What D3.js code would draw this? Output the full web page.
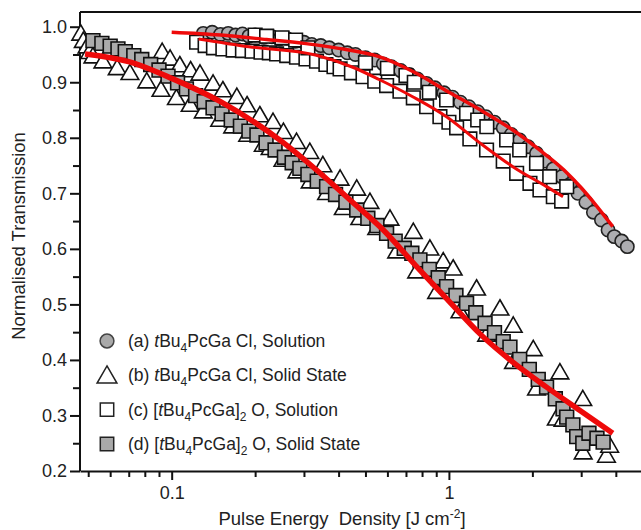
<!DOCTYPE html>
<html lang="en">
<head>
<meta charset="utf-8">
<title>Normalised Transmission</title>
<script src="https://cdn.jsdelivr.net/npm/d3@7"></script>
<style>
  body { margin: 0; background: #fff; }
  svg text { font-family: "Liberation Sans", Arial, Helvetica, sans-serif; fill: #222; }
  .axis path, .axis line { stroke: #111; stroke-width: 2; }
  .axis text { font-size: 18px; }
</style>
</head>
<body>
<div id="chart"></div>
<script>
const W = 641, H = 530;

// x ticks (log), y ticks
const xMajor = [0.1, 1];
const xMinor = [0.05, 0.06, 0.07, 0.08, 0.09, 0.2, 0.3, 0.4, 0.5, 0.6, 0.7, 0.8, 0.9, 2, 3, 4];
const yMajor = [0.2, 0.3, 0.4, 0.5, 0.6, 0.7, 0.8, 0.9, 1.0];
const yMinor = [0.25, 0.35, 0.45, 0.55, 0.65, 0.75, 0.85, 0.95];

// (a) tBu4PcGaCl, solution - grey circles
const seriesA = [[0.13,0.988],[0.14,0.990],[0.15,0.986],[0.16,0.988],[0.17,0.985],[0.18,0.987],[0.19,0.983],[0.2,0.985],
  [0.215,0.981],[0.23,0.982],[0.245,0.978],[0.26,0.979],[0.28,0.974],[0.3,0.972],[0.32,0.968],[0.345,0.966],[0.37,0.962],
  [0.4,0.958],[0.43,0.953],[0.46,0.950],[0.5,0.944],[0.54,0.940],[0.58,0.933],[0.62,0.928],[0.67,0.921],[0.72,0.914],
  [0.77,0.906],[0.83,0.898],[0.89,0.890],[0.96,0.881],[1.03,0.873],[1.1,0.864],[1.18,0.856],[1.27,0.847],[1.36,0.838],
  [1.46,0.828],[1.57,0.818],[1.68,0.806],[1.8,0.796],[1.93,0.784],[2.07,0.772],[2.22,0.758],[2.38,0.744],[2.55,0.730],
  [2.73,0.716],[2.92,0.700],[3.12,0.684],[3.32,0.666],[3.55,0.652],[3.75,0.634],[3.95,0.622],[4.2,0.614],[4.4,0.604]];

// (b) tBu4PcGaCl, solid state - open triangles
const seriesB = [[0.047,0.985],[0.048,0.972],[0.0495,0.962],[0.0506,0.952],[0.052,0.944],[0.0565,0.935],[0.0636,0.923],
  [0.0707,0.914],[0.0813,0.899],[0.0915,0.884],[0.0924,0.952],[0.0987,0.940],[0.104,0.869],[0.107,0.928],[0.1166,0.857],
  [0.117,0.919],[0.1265,0.913],[0.13,0.845],[0.141,0.895],[0.149,0.830],[0.153,0.883],[0.166,0.818],[0.1718,0.871],
  [0.187,0.856],[0.188,0.803],[0.208,0.838],[0.214,0.785],[0.2265,0.779],[0.232,0.826],[0.252,0.758],[0.253,0.808],
  [0.282,0.790],[0.283,0.737],[0.315,0.772],[0.316,0.719],[0.351,0.748],[0.362,0.698],[0.405,0.724],[0.416,0.671],
  [0.465,0.706],[0.477,0.653],[0.519,0.682],[0.549,0.635],[0.613,0.652],[0.648,0.593],[0.744,0.628],[0.765,0.557],
  [0.854,0.598],[0.903,0.520],[0.954,0.575],[1.036,0.562],[1.096,0.485],[1.258,0.526],[1.368,0.443],[1.528,0.490],
  [1.706,0.459],[1.71,0.394],[2.015,0.417],[2.07,0.346],[2.44,0.292],[2.514,0.375],[2.58,0.290],[3.04,0.327],
  [3.05,0.231],[3.7,0.225],[3.8,0.243]];

// (c) [tBu4PcGa]2O, solution - open squares
const seriesC = [[0.123,0.972],[0.132,0.966],[0.1415,0.962],[0.153,0.960],[0.1666,0.958],[0.18,0.957],[0.195,0.956],
  [0.2,0.985],[0.21,0.954],[0.22,0.983],[0.225,0.953],[0.239,0.951],[0.25,0.980],[0.26,0.948],[0.28,0.976],[0.282,0.945],
  [0.305,0.942],[0.31,0.962],[0.333,0.938],[0.36,0.932],[0.385,0.928],[0.405,0.924],[0.445,0.917],[0.49,0.910],
  [0.5,0.935],[0.54,0.902],[0.596,0.894],[0.6,0.925],[0.666,0.884],[0.7,0.912],[0.744,0.872],[0.75,0.900],[0.831,0.856],
  [0.85,0.882],[0.928,0.838],[0.981,0.868],[1.0,0.828],[1.066,0.818],[1.158,0.844],[1.19,0.798],[1.27,0.832],
  [1.367,0.778],[1.37,0.820],[1.57,0.758],[1.615,0.796],[1.755,0.736],[1.8,0.778],[1.96,0.718],[2.07,0.754],
  [2.13,0.706],[2.31,0.730],[2.38,0.694],[2.55,0.686],[2.66,0.712]];

// (d) [tBu4PcGa]2O, solid state - grey squares
const seriesD = [[0.052,0.975],[0.056,0.970],[0.06,0.965],[0.064,0.960],[0.068,0.955],[0.073,0.948],[0.078,0.941],
  [0.084,0.932],[0.09,0.922],[0.097,0.911],[0.105,0.899],[0.113,0.888],[0.122,0.876],[0.131,0.865],[0.141,0.854],
  [0.152,0.843],[0.164,0.832],[0.177,0.821],[0.19,0.812],[0.203,0.805],[0.219,0.791],[0.236,0.778],[0.255,0.765],
  [0.272,0.755],[0.29,0.745],[0.31,0.734],[0.335,0.722],[0.362,0.712],[0.39,0.698],[0.425,0.684],[0.465,0.670],
  [0.51,0.655],[0.55,0.642],[0.596,0.628],[0.64,0.614],[0.69,0.601],[0.735,0.592],[0.786,0.580],[0.85,0.563],
  [0.915,0.548],[0.981,0.532],[1.06,0.516],[1.158,0.502],[1.25,0.485],[1.35,0.466],[1.46,0.449],[1.57,0.433],
  [1.66,0.423],[1.8,0.401],[1.95,0.383],[2.1,0.365],[2.25,0.351],[2.42,0.330],[2.58,0.312],[2.66,0.297],[2.8,0.283],
  [2.89,0.262],[3.04,0.250],[3.2,0.268],[3.42,0.259],[3.6,0.252]];

// fitted curves
const fitA = [[0.1,0.990],[0.15,0.985],[0.22,0.977],[0.3,0.970],[0.4,0.961],[0.56,0.946],[0.75,0.918],[1.0,0.882],
  [1.3,0.850],[1.7,0.814],[2.1,0.780],[2.6,0.742],[3.0,0.710],[3.4,0.678],[3.9,0.640]];
const fitC = [[0.125,0.978],[0.19,0.964],[0.33,0.949],[0.45,0.927],[0.56,0.905],[0.74,0.874],[0.98,0.838],[1.3,0.790],
  [1.7,0.748],[2.25,0.712],[2.58,0.694]];
const fitBD = [[0.0487,0.951],[0.07,0.937],[0.1,0.907],[0.15,0.865],[0.25,0.793],[0.333,0.742],[0.44,0.688],[0.58,0.634],
  [0.765,0.568],[1.0,0.506],[1.3,0.446],[1.7,0.396],[2.25,0.351],[2.97,0.309],[3.9,0.268]];

const legendItems = [
  {key: "a", pre: "(a) ", br: false, tail: " Cl, Solution"},
  {key: "b", pre: "(b) ", br: false, tail: " Cl, Solid State"},
  {key: "c", pre: "(c) [", br: true, tail: " O, Solution"},
  {key: "d", pre: "(d) [", br: true, tail: " O, Solid State"}
];

const plotLeft = 80, plotRight = 641, plotTop = 12, plotBottom = 471;

const x = d3.scaleLog().domain([0.0467, 4.93]).range([plotLeft, plotRight]);
const y = d3.scaleLinear().domain([0.2, 1.0265]).range([plotBottom, plotTop]);

const svg = d3.select("#chart").append("svg")
  .attr("width", W).attr("height", H);

// frame top
svg.append("line")
  .attr("x1", plotLeft).attr("x2", plotRight).attr("y1", plotTop).attr("y2", plotTop)
  .attr("stroke", "#111").attr("stroke-width", 2);

// axes
const gx = svg.append("g").attr("class", "axis").attr("transform", "translate(0," + plotBottom + ")");
gx.call(d3.axisBottom(x).tickValues(xMajor).tickSize(9).tickSizeOuter(0).tickPadding(6)
  .tickFormat(d => d < 1 ? "0.1" : "1"));
gx.append("g").call(d3.axisBottom(x).tickValues(xMinor).tickSize(6).tickFormat(""))
  .select(".domain").remove();

const gy = svg.append("g").attr("class", "axis").attr("transform", "translate(" + plotLeft + ",0)");
gy.call(d3.axisLeft(y).tickValues(yMajor).tickSize(10).tickSizeOuter(0).tickPadding(3)
  .tickFormat(d3.format(".1f")));
gy.append("g").call(d3.axisLeft(y).tickValues(yMinor).tickSize(7).tickFormat(""))
  .select(".domain").remove();
gy.select(".domain").attr("d", "M0," + plotTop + "V" + plotBottom);

// axis titles
svg.append("text")
  .attr("transform", "translate(25,236) rotate(-90)")
  .attr("text-anchor", "middle")
  .style("font-size", "18.5px")
  .text("Normalised Transmission");

const xt = svg.append("text")
  .attr("x", 342).attr("y", 525)
  .attr("text-anchor", "middle")
  .style("font-size", "18.5px");
xt.append("tspan").text("Pulse Energy\u00a0 Density [J cm");
xt.append("tspan").attr("dy", -7).style("font-size", "12px").text("-2");
xt.append("tspan").attr("dy", 7).text("]");

// markers
const sym = (type, size) => d3.symbol().type(type).size(size)();
const plot = svg.append("g");

function drawSeries(data, type, size, fill, stroke) {
  plot.append("g").selectAll("path")
    .data(data)
    .join("path")
    .attr("transform", d => "translate(" + x(d[0]) + "," + y(d[1]) + ")")
    .attr("d", sym(type, size))
    .attr("fill", fill)
    .attr("stroke", stroke)
    .attr("stroke-width", 1.6);
}

drawSeries(seriesB, d3.symbolTriangle, 135, "#fff", "#111");
drawSeries(seriesD, d3.symbolSquare, 190, "#ababab", "#111");
drawSeries(seriesA, d3.symbolCircle, 140, "#adadb0", "#222");
drawSeries(seriesC, d3.symbolSquare, 185, "#fff", "#111");

// fit lines
const line = d3.line().x(d => x(d[0])).y(d => y(d[1])).curve(d3.curveMonotoneX);
plot.append("path").datum(fitC).attr("d", line)
  .attr("fill", "none").attr("stroke", "#ee0a0a").attr("stroke-width", 3);
plot.append("path").datum(fitA).attr("d", line)
  .attr("fill", "none").attr("stroke", "#ee0a0a").attr("stroke-width", 3.5);
plot.append("path").datum(fitBD).attr("d", line)
  .attr("fill", "none").attr("stroke", "#ee0a0a").attr("stroke-width", 5.5);

// legend
const legY = d3.scalePoint().domain(legendItems.map(d => d.key)).range([341, 444]);
const leg = svg.append("g");
const legMarker = {a: [d3.symbolCircle, 150, "#a9a9a9"], b: [d3.symbolTriangle, 170, "#fff"],
  c: [d3.symbolSquare, 180, "#fff"], d: [d3.symbolSquare, 180, "#a9a9a9"]};

legendItems.forEach(it => {
  const m = legMarker[it.key];
  const cy = legY(it.key);
  leg.append("path")
    .attr("transform", "translate(107," + (cy + (it.key === "b" ? 2 : 0)) + ")")
    .attr("d", sym(m[0], m[1]))
    .attr("fill", m[2])
    .attr("stroke", it.key === "a" ? "#444" : "#222")
    .attr("stroke-width", 1.5);
  const t = leg.append("text")
    .attr("x", 128).attr("y", cy + 6)
    .style("font-size", "17.5px");
  t.append("tspan").text(it.pre);
  t.append("tspan").style("font-style", "italic").text("t");
  t.append("tspan").text("Bu");
  t.append("tspan").attr("dy", 5).style("font-size", "12px").text("4");
  t.append("tspan").attr("dy", -5).text("PcGa" + (it.br ? "]" : ""));
  if (it.br) {
    t.append("tspan").attr("dy", 5).style("font-size", "12px").text("2");
    t.append("tspan").attr("dy", -5).text(it.tail);
  } else {
    t.append("tspan").text(it.tail);
  }
});
</script>
</body>
</html>
